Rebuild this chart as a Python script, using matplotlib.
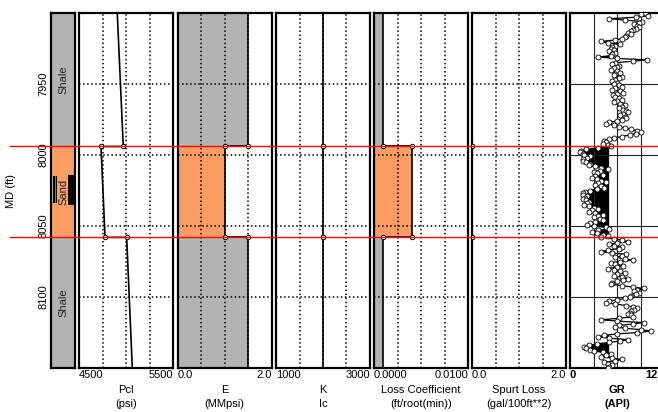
import numpy as np
import matplotlib.pyplot as plt
from matplotlib.transforms import blended_transform_factory

plt.rcParams['font.family'] = ['Liberation Sans', 'DejaVu Sans']

# profundidades (ft)
topo, base = 7900, 8150
prof_grid = [7950, 8000, 8050, 8100]
areia = [7994, 8058]  # topo e base da areia (linhas vermelhas)

# litologia: (topo, base, nome, cor)
litologia = [(7900, 7994, 'Shale', '#b3b3b3'),
             (7994, 8058, 'Sand', '#fd9c63'),
             (8058, 8150, 'Shale', '#b3b3b3')]
perf_esq = [8015, 8034]
perf_dir = [8014, 8035]

# propriedades por camada (pontos nas interfaces)
prof_camadas = [7900, 7994, 7994, 8058, 8058, 8150]
pcl = [4907, 4971, 4734, 4777, 5007, 5067]
mod_e = [1.5, 1.5, 1.0, 1.0, 1.5, 1.5]
tenac_k = [2000, 2000, 2000, 2000, 2000, 2000]
coef_perda = [0.001, 0.001, 0.004, 0.004, 0.001, 0.001]
spurt = [0.0, 0.0, 0.0, 0.0, 0.0, 0.0]

# perfil de raios gama (a cada 1 ft)
prof_gr = list(range(7900, 8151))
gr = [96, 90, 100, 84, 50, 70, 92, 88, 82, 86,
      88, 84, 80, 78, 74, 78, 72, 70, 66, 58,
      40, 48, 64, 58, 54, 52, 56, 50, 58, 54,
      52, 36, 60, 98, 80, 58, 54, 62, 60, 56,
      52, 60, 64, 58, 56, 66, 62, 58, 54, 60,
      56, 62, 66, 58, 54, 64, 68, 60, 55, 58,
      62, 66, 60, 56, 64, 70, 66, 62, 68, 72,
      74, 68, 64, 70, 72, 66, 60, 50, 46, 56,
      62, 70, 78, 86, 90, 84, 76, 66, 56, 50,
      44, 46, 42, 48, 52, 36, 20, 14, 13, 16,
      18, 26, 22, 17, 16, 20, 26, 24, 32, 40,
      48, 38, 30, 34, 42, 32, 28, 34, 40, 46,
      36, 32, 40, 44, 34, 26, 19, 16, 17, 22,
      19, 16, 20, 24, 22, 18, 24, 30, 36, 28,
      24, 32, 42, 36, 30, 38, 42, 32, 26, 22,
      30, 46, 50, 36, 28, 34, 42, 48, 40, 56,
      66, 74, 60, 50, 56, 66, 62, 48, 40, 54,
      72, 66, 58, 70, 80, 64, 52, 58, 68, 60,
      48, 56, 64, 70, 60, 56, 66, 74, 68, 60,
      54, 52, 66, 80, 94, 86, 82, 88, 84, 78,
      76, 70, 60, 50, 46, 58, 72, 80, 85, 82,
      78, 76, 74, 78, 80, 62, 40, 60, 94, 80,
      62, 58, 70, 90, 104, 86, 60, 44, 36, 50,
      74, 64, 50, 34, 24, 18, 20, 26, 30, 42,
      52, 46, 40, 54, 66, 58, 44, 48, 54, 50,
      48]
gr_corte = 50

# trilhas: nome, unidade, min, max, rotulo min, rotulo max, dados, preenche
trilhas = [('Pcl', '(psi)', 4500, 5500, '4500', '5500', pcl, False),
           ('E', '(MMpsi)', 0.0, 2.0, '0.0', '2.0', mod_e, True),
           ('K', 'Ic', 1000, 3000, '1000', '3000', tenac_k, False),
           ('Loss Coefficient', '(ft/root(min))', 0.0, 0.01, '0.0000', '0.0100', coef_perda, True),
           ('Spurt Loss', '(gal/100ft**2)', 0.0, 2.0, '0.0', '2.0', spurt, False)]

W, H = 658.0, 412.0
y_top, y_bot = 13, 368
def eixo(x, w):
    return fig.add_axes([x / W, (H - y_bot) / H, w / W, (y_bot - y_top) / H])

fig = plt.figure(figsize=(W / 100, H / 100), dpi=100)

# coluna de litologia
ax0 = eixo(51, 24)
for t, b, nome, cor in litologia:
    ax0.axhspan(t, b, color=cor, lw=0)
    ax0.text(0.5, (t + b) / 2, nome, rotation=90, ha='center', va='center',
             fontsize=8, color='#222222', transform=blended_transform_factory(ax0.transAxes, ax0.transData))
ax0.fill_betweenx(perf_esq, 0, 0.26, color='k', lw=0)
ax0.fill_betweenx(perf_esq, 0.04, 0.22, facecolor='none', edgecolor='w', hatch='||||', lw=0)
ax0.fill_betweenx(perf_dir, 0.72, 1.0, color='k', lw=0)
ax0.set_xlim(0, 1)
ax0.set_ylim(base, topo)
ax0.set_xticks([])
ax0.set_yticks(prof_grid)
ax0.set_yticklabels([str(p) for p in prof_grid], rotation=90, va='center', fontsize=8)
ax0.tick_params(axis='y', length=0, pad=2)
ax0.set_ylabel('MD (ft)', fontsize=8, labelpad=16)
for s in ax0.spines.values():
    s.set_linewidth(1.6)

eixos = [ax0]
x0s = [79, 177.5, 276, 374, 472]
segs = [(0, 2), (2, 4), (4, 6)]
for i, (nome, unid, vmin, vmax, lmin, lmax, dados, preenche) in enumerate(trilhas):
    ax = eixo(x0s[i], 94)
    if preenche:
        for (a, b), camada in zip(segs, litologia):
            ax.fill_betweenx(prof_camadas[a:b], vmin, dados[a:b], color=camada[3], lw=0)
    ax.plot(dados, prof_camadas, 'k-', lw=1.2, marker='o', ms=3.2, mfc='w', mec='k', mew=0.7,
            markevery=[1, 2, 3, 4], zorder=3)
    ax.set_xlim(vmin, vmax)
    ax.set_ylim(base, topo)
    passo = (vmax - vmin) / 4
    ax.set_xticks([vmin + passo, vmin + 2 * passo, vmin + 3 * passo])
    ax.set_yticks(prof_grid)
    ax.grid(True, ls=':', color='k', lw=1.1)
    ax.tick_params(length=0, labelbottom=False, labelleft=False)
    for s in ax.spines.values():
        s.set_linewidth(1.6)
    ax.text(0, -0.006, lmin, transform=ax.transAxes, ha='left', va='top', fontsize=8)
    ax.text(1, -0.006, lmax, transform=ax.transAxes, ha='right', va='top', fontsize=8)
    ax.text(0.5, -0.048, nome, transform=ax.transAxes, ha='center', va='top', fontsize=8)
    ax.text(0.5, -0.088, unid, transform=ax.transAxes, ha='center', va='top', fontsize=8)
    eixos.append(ax)

# trilha GR
axg = eixo(570, 94)
axg.fill_betweenx(prof_gr, gr, gr_corte, where=[g < gr_corte for g in gr], color='k', lw=0,
                  interpolate=True)
axg.plot(gr, prof_gr, 'k-', lw=0.9, marker='o', ms=3.6, mfc='w', mec='k', mew=0.6, zorder=3)
axg.set_xlim(0, 120)
axg.set_ylim(base, topo)
axg.set_xticks([30, 60, 90])
axg.set_yticks(prof_grid)
axg.grid(True, ls='-', color='#222222', lw=0.8)
axg.tick_params(length=0, labelbottom=False, labelleft=False)
for s in axg.spines.values():
    s.set_linewidth(1.6)
axg.text(0, -0.006, '0', transform=axg.transAxes, ha='left', va='top', fontsize=8, weight='bold')
axg.text(1, -0.006, '120', transform=axg.transAxes, ha='right', va='top', fontsize=8, weight='bold')
axg.text(0.5, -0.048, 'GR', transform=axg.transAxes, ha='center', va='top', fontsize=8, weight='bold')
axg.text(0.5, -0.088, '(API)', transform=axg.transAxes, ha='center', va='top', fontsize=8, weight='bold')

# linhas vermelhas no topo e base da areia
tr = blended_transform_factory(fig.transFigure, ax0.transData)
for p in areia:
    fig.add_artist(plt.Line2D([10 / W, 1], [p, p], transform=tr, color='red', lw=1.0, zorder=10))

# titulo cortado no topo da figura
fig.text(207 / W, 1.0, 'g', ha='center', va='bottom', fontsize=11)

fig.savefig('out.png', dpi=100)
